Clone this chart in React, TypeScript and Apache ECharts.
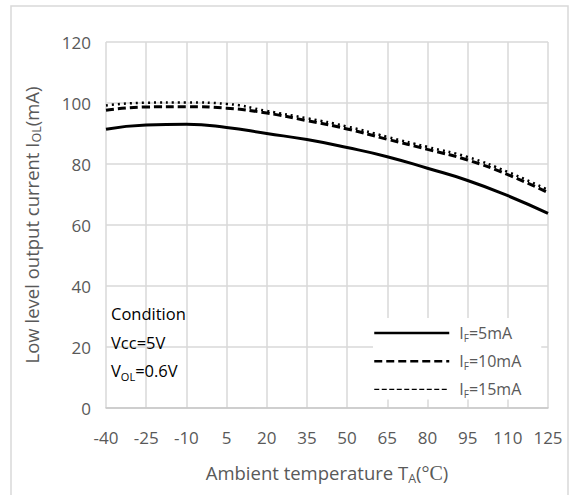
import React, { useEffect, useRef } from "react";
import * as echarts from "echarts";

const temps = ["-40", "-25", "-10", "5", "20", "35", "50", "65", "80", "95", "110", "125"];
const seriesIF = ["5mA", "10mA", "15mA"];
const io5 = [91.4, 92.8, 93.0, 92.0, 90.0, 88.0, 85.4, 82.4, 78.6, 74.6, 69.6, 63.8];
const io10 = [97.6, 98.7, 98.8, 98.3, 96.7, 94.2, 91.5, 88.1, 84.8, 81.3, 76.5, 70.6];
const io15 = [99.2, 100.1, 100.2, 99.7, 97.4, 95.0, 92.3, 88.9, 85.6, 82.3, 77.4, 71.5];
const conditionLines = ["Condition", "Vcc=5V", "V_OL=0.6V"];

const FONT = "'Open Sans', 'Noto Sans', sans-serif";
const TXT = "#595959";
const GRID = "#d9d9d9";

export default function App() {
  const ref = useRef<HTMLDivElement>(null);
  useEffect(() => {
    if (!ref.current) return;
    const chart = echarts.init(ref.current, null, { renderer: "svg" });
    const base = { fontFamily: FONT, fontSize: 16, color: TXT, lineHeight: 22 };
    const sub = { fontFamily: FONT, fontSize: 11, color: TXT, lineHeight: 11, verticalAlign: "bottom" };
    const tBase = { fontFamily: FONT, fontSize: 18.5, color: TXT, lineHeight: 24 };
    const tSub = { fontFamily: FONT, fontSize: 12.5, color: TXT, lineHeight: 12, verticalAlign: "bottom" };
    const serif = { fontFamily: "'Liberation Serif', 'DejaVu Serif', serif", fontSize: 20, color: TXT, lineHeight: 24 };
    const styles = [
      { type: "solid", width: 3 },
      { type: [8, 4], width: 3 },
      { type: [2, 4], width: 2.5 },
    ];
    const legendLines = [
      { type: "solid", width: 2.5 },
      { type: [8, 4], width: 2.5 },
      { type: [5, 2.5], width: 1.2 },
    ];
    const datas = [io5, io10, io15];
    const condRich = conditionLines.map((t) => {
      const m = t.match(/^(\w)_(\w+)(.*)$/);
      return m ? `{n|${m[1]}}{s|${m[2]}}{n|${m[3]}}` : `{n|${t}}`;
    });
    chart.setOption({
      animation: false,
      backgroundColor: "#fff",
      grid: { left: 106, right: 30, top: 42, bottom: 87 },
      xAxis: {
        type: "category",
        data: temps,
        boundaryGap: false,
        axisLine: { show: true, lineStyle: { color: "#c8c8c8", width: 1.5 } },
        axisTick: { show: false },
        axisLabel: { fontFamily: FONT, fontSize: 17, color: TXT, margin: 21 },
        splitLine: { show: true, lineStyle: { color: GRID, width: 1.5 } },
        name: "{n|Ambient temperature T}{s|A}{n|(}{c|°C}{n|)}",
        nameLocation: "middle",
        nameGap: 52.5,
        nameTextStyle: { rich: { n: tBase, s: tSub, c: serif } },
      },
      yAxis: {
        type: "value",
        min: 0,
        max: 120,
        interval: 20,
        axisLine: { show: false },
        axisTick: { show: false },
        axisLabel: { fontFamily: FONT, fontSize: 17, color: TXT, margin: 15 },
        splitLine: { show: true, lineStyle: { color: GRID, width: 1.5 } },
        name: "{n|Low level output current I}{s|OL}{n|(mA)}",
        nameLocation: "middle",
        nameRotate: 90,
        nameGap: 63,
        nameTextStyle: { rich: { n: tBase, s: tSub } },
      },
      legend: {
        left: 373,
        top: 318,
        orient: "vertical",
        backgroundColor: "#fff",
        padding: [7, 20, 0, 0],
        itemWidth: 75,
        itemHeight: 14,
        itemGap: 10.2,
        itemStyle: { opacity: 0 },
        data: seriesIF.map((s, i) => ({ name: "I_F=" + s, lineStyle: { ...legendLines[i], color: "#000" } })),
        formatter: (name: string) => `{n|I}{s|F}{n|${name.slice(3)}}`,
        textStyle: {
          padding: [0, 0, 0, 5],
          rich: { n: { ...base, lineHeight: 20 }, s: { ...sub, fontSize: 10, lineHeight: 10 } },
        },
      },
      graphic: [
        {
          type: "rect",
          shape: { x: 11, y: 6, width: 557, height: 500 },
          style: { fill: "none", stroke: "#d9d9d9", lineWidth: 1.5 },
          silent: true,
          z: 100,
        },
        ...condRich.map((t, i) => ({
          type: "text",
          left: 111,
          top: 305 + i * 28.5,
          z: 50,
          style: { text: t, rich: { n: { ...base, fontSize: 16.5 }, s: sub } },
        })),
      ],
      series: seriesIF.map((s, i) => ({
        name: "I_F=" + s,
        type: "line",
        data: datas[i],
        smooth: true,
        symbol: "none",
        lineStyle: { color: "#000", type: styles[i].type, width: styles[i].width },
        itemStyle: { color: "#000" },
      })),
    });
    return () => chart.dispose();
  }, []);
  return (
    <div
      ref={ref}
      style={{ position: "fixed", left: 0, top: 0, width: 578, height: 495 }}
    />
  );
}
